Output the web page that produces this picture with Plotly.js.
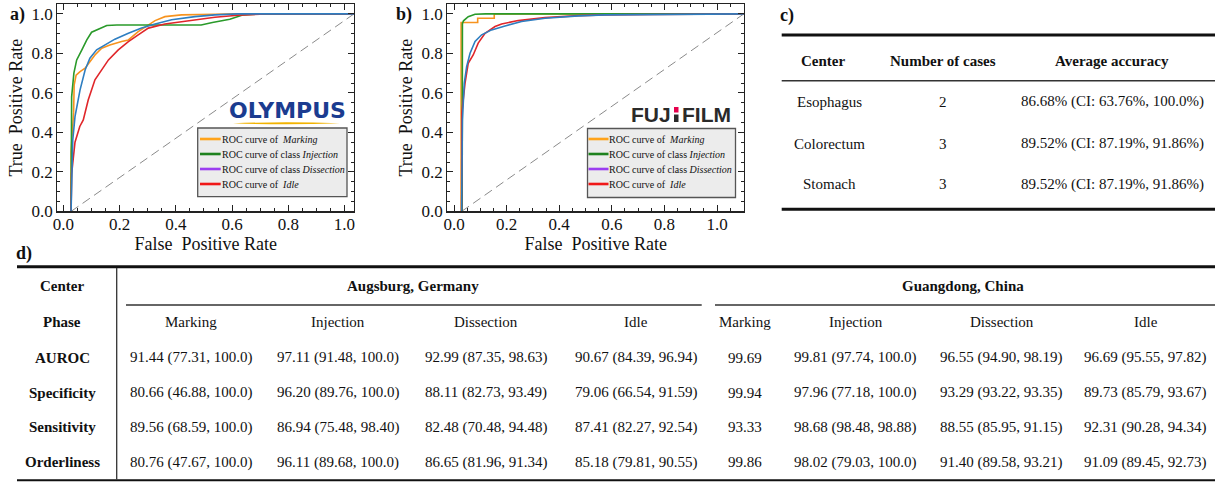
<!DOCTYPE html>
<html><head><meta charset="utf-8">
<script src="https://cdn.plot.ly/plotly-3.0.1.min.js"></script>
<style>html,body{margin:0;padding:0;background:#fff}#chart{width:1215px;height:482px}</style>
</head><body><div id="chart"></div>
<script>
// ===================== DATA =====================
// a) OLYMPUS ROC curves
const olyMarkingX = [0.027, 0.027, 0.036, 0.038, 0.045, 0.059, 0.077, 0.094, 0.112, 0.136, 0.165, 0.207, 0.231, 0.266, 0.302, 0.326, 0.361, 0.42, 0.54, 0.62, 1.034];
const olyMarkingY = [0, 0.3, 0.5, 0.64, 0.69, 0.708, 0.725, 0.758, 0.792, 0.826, 0.843, 0.860, 0.868, 0.91, 0.944, 0.966, 0.986, 0.995, 0.998, 1.0, 1.0];
const olyInjectionX = [0.027, 0.029, 0.037, 0.047, 0.065, 0.083, 0.100, 0.124, 0.154, 0.19, 0.49, 0.53, 0.592, 0.64, 0.70, 1.034];
const olyInjectionY = [0, 0.58, 0.70, 0.767, 0.817, 0.868, 0.907, 0.922, 0.941, 0.944, 0.944, 0.956, 0.973, 0.995, 1.0, 1.0];
const olyDissectionX = [0.027, 0.029, 0.033, 0.041, 0.047, 0.059, 0.077, 0.094, 0.118, 0.148, 0.183, 0.231, 0.278, 0.326, 0.385, 0.468, 0.539, 0.62, 1.034];
const olyDissectionY = [0, 0.2, 0.36, 0.48, 0.53, 0.615, 0.716, 0.776, 0.818, 0.843, 0.872, 0.902, 0.928, 0.949, 0.97, 0.986, 0.995, 1.0, 1.0];
const olyIdleX = [0.027, 0.029, 0.041, 0.058, 0.0705, 0.088, 0.112, 0.136, 0.160, 0.195, 0.231, 0.266, 0.302, 0.361, 0.444, 0.539, 0.62, 0.72, 1.034];
const olyIdleY = [0, 0.19, 0.35, 0.43, 0.463, 0.564, 0.666, 0.716, 0.767, 0.818, 0.860, 0.894, 0.928, 0.949, 0.966, 0.983, 0.993, 1.0, 1.0];
const olyDiagX = [0.027, 1.034];
const olyDiagY = [0, 1];

// b) FUJIFILM ROC curves
const fujiMarkingX = [0.027, 0.027, 0.09, 0.09, 0.153, 0.153, 1.102];
const fujiMarkingY = [0, 0.956, 0.956, 0.978, 0.978, 1.0, 1.0];
const fujiInjectionX = [0.031, 0.032, 0.036, 0.054, 0.08, 0.12, 1.102];
const fujiInjectionY = [0, 0.95, 0.965, 0.986, 0.998, 1.0, 1.0];
const fujiDissectionX = [0.029, 0.030, 0.032, 0.039, 0.048, 0.061, 0.08, 0.105, 0.143, 0.194, 0.257, 0.346, 0.473, 0.574, 0.75, 1.02, 1.102];
const fujiDissectionY = [0, 0.3, 0.463, 0.649, 0.733, 0.801, 0.86, 0.894, 0.919, 0.939, 0.961, 0.978, 0.990, 0.995, 0.997, 1.0, 1.0];
const fujiIdleX = [0.029, 0.030, 0.035, 0.042, 0.054, 0.073, 0.092, 0.118, 0.156, 0.181, 0.244, 0.346, 0.473, 0.574, 0.75, 1.02, 1.102];
const fujiIdleY = [0, 0.5, 0.564, 0.649, 0.75, 0.792, 0.852, 0.902, 0.936, 0.949, 0.966, 0.981, 0.991, 0.995, 0.997, 1.0, 1.0];
const fujiDiagX = [0.029, 1.102];
const fujiDiagY = [0, 1];

const legendLabels = ['ROC curve of\u00a0 <i>Marking</i>', 'ROC curve of class <i>Injection</i>', 'ROC curve of class <i>Dissection</i>', 'ROC curve of\u00a0 <i>Idle</i>'];
const axisTicks = [0, 0.2, 0.4, 0.6, 0.8, 1.0];

// c) table
const tableCHeaders = ['Center', 'Number of cases', 'Average accuracy'];
const tableCCenters = ['Esophagus', 'Colorectum', 'Stomach'];
const tableCCases = ['2', '3', '3'];
const tableCAccuracy = ['86.68% (CI: 63.76%, 100.0%)', '89.52% (CI: 87.19%, 91.86%)', '89.52% (CI: 87.19%, 91.86%)'];

// d) table
const tableDCenters = ['Augsburg, Germany', 'Guangdong, China'];
const tableDPhases = ['Marking', 'Injection', 'Dissection', 'Idle'];
const tableDMetrics = ['AUROC', 'Specificity', 'Sensitivity', 'Orderliness'];
const augsburgAUROC = ['91.44 (77.31, 100.0)', '97.11 (91.48, 100.0)', '92.99 (87.35, 98.63)', '90.67 (84.39, 96.94)'];
const augsburgSpecificity = ['80.66 (46.88, 100.0)', '96.20 (89.76, 100.0)', '88.11 (82.73, 93.49)', '79.06 (66.54, 91.59)'];
const augsburgSensitivity = ['89.56 (68.59, 100.0)', '86.94 (75.48, 98.40)', '82.48 (70.48, 94.48)', '87.41 (82.27, 92.54)'];
const augsburgOrderliness = ['80.76 (47.67, 100.0)', '96.11 (89.68, 100.0)', '86.65 (81.96, 91.34)', '85.18 (79.81, 90.55)'];
const guangdongAUROC = ['99.69', '99.81 (97.74, 100.0)', '96.55 (94.90, 98.19)', '96.69 (95.55, 97.82)'];
const guangdongSpecificity = ['99.94', '97.96 (77.18, 100.0)', '93.29 (93.22, 93.35)', '89.73 (85.79, 93.67)'];
const guangdongSensitivity = ['93.33', '98.68 (98.48, 98.88)', '88.55 (85.95, 91.15)', '92.31 (90.28, 94.34)'];
const guangdongOrderliness = ['99.86', '98.02 (79.03, 100.0)', '91.40 (89.58, 93.21)', '91.09 (89.45, 92.73)'];

// ===================== STYLE / LAYOUT =====================
const W = 1215, H = 482;
const X = p => p / W;
const Y = p => 1 - p / H;
const SERIF = 'Liberation Serif';
const curveColors = ['#F7931E', '#2A9A2A', '#2E7EC1', '#E0262A'];
const legendColors = ['#FFA31A', '#1E821E', '#9B3DF0', '#F01818'];
const lw = 1.6;

function line(xs, ys, color, xa, ya, dash) {
  return {x: xs, y: ys, type: 'scatter', mode: 'lines', xaxis: xa, yaxis: ya, showlegend: false,
    hoverinfo: 'skip', line: {color: color, width: dash ? 1 : lw, dash: dash || 'solid'}};
}
const traces = [
  line(olyDiagX, olyDiagY, '#8a8a8a', 'x', 'y', '9px,5px'),
  line(olyMarkingX, olyMarkingY, curveColors[0], 'x', 'y'),
  line(olyInjectionX, olyInjectionY, curveColors[1], 'x', 'y'),
  line(olyIdleX, olyIdleY, curveColors[3], 'x', 'y'),
  line(olyDissectionX, olyDissectionY, curveColors[2], 'x', 'y'),
  line(fujiDiagX, fujiDiagY, '#8a8a8a', 'x2', 'y2', '9px,5px'),
  line(fujiMarkingX, fujiMarkingY, curveColors[0], 'x2', 'y2'),
  line(fujiInjectionX, fujiInjectionY, curveColors[1], 'x2', 'y2'),
  line(fujiIdleX, fujiIdleY, curveColors[3], 'x2', 'y2'),
  line(fujiDissectionX, fujiDissectionY, curveColors[2], 'x2', 'y2'),
];

function axis(domain, range, title, isY) {
  const a = {
    domain: domain, range: range, showline: true, mirror: 'allticks', linecolor: '#222', linewidth: 1.2,
    ticks: 'inside', ticklen: 6, tickwidth: 1, tickcolor: '#222',
    tickvals: axisTicks, tickformat: '.1f', showgrid: false, zeroline: false,
    minor: {dtick: 0.05, tick0: 0, ticks: 'inside', ticklen: 3, tickcolor: '#222', showgrid: false},
    tickfont: {family: SERIF, size: 17, color: '#111'},
    title: {text: title, font: {family: SERIF, size: 18, color: '#111'}, standoff: isY ? 4 : 0},
    automargin: false, fixedrange: true
  };
  if (!isY) a.ticklabelstandoff = -3;
  return a;
}

const yDom = [Y(211.4), Y(4)];
const layout = {
  width: W, height: H, margin: {l: 0, r: 0, t: 0, b: 0},
  font: {family: SERIF, color: '#111'},
  paper_bgcolor: '#fff', plot_bgcolor: '#fff', showlegend: false,
  xaxis: axis([X(57.3), X(354)], [-0.022, 1.034], 'False\u00a0 Positive Rate', false),
  yaxis: axis(yDom, [0, 1.05], 'True\u00a0 Positive Rate', true),
  xaxis2: Object.assign(axis([X(447.3), X(744)], [-0.0255, 1.1026], 'False\u00a0 Positive Rate', false), {anchor: 'y2'}),
  yaxis2: Object.assign(axis(yDom, [0, 1.05], 'True\u00a0 Positive Rate', true), {anchor: 'x2'}),
  shapes: [], annotations: []
};
layout.xaxis.anchor = 'y';
layout.yaxis.anchor = 'x';

const shapes = layout.shapes, ann = layout.annotations;
function hline(x0, x1, y, w, c) {
  shapes.push({type: 'line', xref: 'paper', yref: 'paper', x0: X(x0), x1: X(x1), y0: Y(y), y1: Y(y), line: {color: c || '#111', width: w}});
}
function vline(x, y0, y1, w, c) {
  shapes.push({type: 'line', xref: 'paper', yref: 'paper', x0: X(x), x1: X(x), y0: Y(y0), y1: Y(y1), line: {color: c || '#111', width: w}});
}
function text(t, x, y, size, opts) {
  opts = opts || {};
  ann.push({text: opts.bold ? '<b>' + t + '</b>' : t, x: X(x), y: Y(y), xref: 'paper', yref: 'paper', showarrow: false,
    xanchor: opts.anchor || 'center', yanchor: 'middle', borderpad: 0,
    font: {family: opts.family || SERIF, size: size, color: opts.color || '#111'}});
}

// panel labels
text('a)', 17, 14, 18, {bold: true});
text('b)', 404, 14, 18, {bold: true});
text('c)', 787, 15, 18, {bold: true});
text('d)', 24, 253, 18, {bold: true});

// legends (custom boxes)
function legendBox(x0, x1, y0, y1, lx0, lx1) {
  shapes.push({type: 'rect', xref: 'paper', yref: 'paper', x0: X(x0), x1: X(x1), y0: Y(y1), y1: Y(y0),
    fillcolor: '#ececec', line: {color: '#555', width: 1.3}});
  const ys = [139, 154, 169, 184];
  legendLabels.forEach((lab, i) => {
    hline(lx0, lx1, ys[i], 2.6, legendColors[i]);
    text(lab, lx1, ys[i], 10, {anchor: 'left'});
  });
}
legendBox(197.7, 347, 128, 196.7, 200, 220.7);
legendBox(587.5, 735.5, 128.5, 197.5, 588.5, 608.5);

// logos
text('OLYMPUS', 287, 111, 22, {bold: true, family: 'DejaVu Sans', color: '#1B3C90'});
shapes.push({type: 'path', xref: 'paper', yref: 'paper',
  path: `M ${X(233)},${Y(123.3)} Q ${X(286.5)},${Y(121.2)} ${X(340)},${Y(123.3)} Q ${X(286.5)},${Y(125.4)} ${X(233)},${Y(123.3)} Z`,
  fillcolor: '#F2B300', line: {width: 0}});
text('FUJ', 671.5, 114.5, 21, {bold: true, family: 'Liberation Sans', color: '#2a2a2a', anchor: 'right'});
shapes.push({type: 'rect', xref: 'paper', yref: 'paper', x0: X(674), x1: X(678.5), y0: Y(112.5), y1: Y(107), fillcolor: '#E6004C', line: {width: 0}});
shapes.push({type: 'rect', xref: 'paper', yref: 'paper', x0: X(674), x1: X(678.5), y0: Y(122), y1: Y(114.5), fillcolor: '#2a2a2a', line: {width: 0}});
text('FILM', 681, 114.5, 21, {bold: true, family: 'Liberation Sans', color: '#2a2a2a', anchor: 'left'});

// ---- table c ----
hline(781.7, 1215, 35, 3);
hline(781.7, 1215, 80.7, 1.6, '#333');
hline(781.7, 1215, 209.3, 3);
const cColX = [823.3, 943.3, 1112.3];
tableCHeaders.forEach((h, i) => text(h, cColX[i], 61, 15, {bold: true}));
const cRowY = [101.7, 143.5, 184];
tableCCenters.forEach((c, i) => {
  text(c, 829, cRowY[i], 15);
  text(tableCCases[i], cColX[1], cRowY[i], 15);
  text(tableCAccuracy[i], cColX[2], cRowY[i], 15);
});

// ---- table d ----
hline(17, 1215, 266.7, 3);
hline(17, 1215, 480.3, 2);
vline(116.7, 268, 479.5, 1.3, '#333');
hline(126, 701.7, 305, 1.5, '#333');
hline(715, 1215, 305, 1.5, '#333');
text('Center', 62, 285.7, 15, {bold: true});
text('Phase', 62, 321.7, 15, {bold: true});
text(tableDCenters[0], 413, 285.7, 15, {bold: true});
text(tableDCenters[1], 963, 285.7, 15, {bold: true});
const dColX = [191, 338, 486, 636, 745, 855.5, 1001.7, 1145.5];
const dRowY = [357.7, 392.7, 427.3, 462.3];
const augsburgRows = [augsburgAUROC, augsburgSpecificity, augsburgSensitivity, augsburgOrderliness];
const guangdongRows = [guangdongAUROC, guangdongSpecificity, guangdongSensitivity, guangdongOrderliness];
tableDPhases.forEach((p, j) => { text(p, dColX[j], 321.7, 15); text(p, dColX[j + 4], 321.7, 15); });
tableDMetrics.forEach((m, i) => {
  text(m, 62, dRowY[i], 15, {bold: true});
  augsburgRows[i].forEach((v, j) => text(v, dColX[j], dRowY[i], 15));
  guangdongRows[i].forEach((v, j) => text(v, dColX[j + 4], dRowY[i], 15));
});

Plotly.newPlot('chart', traces, layout, {staticPlot: true, displayModeBar: false});
</script></body></html>
